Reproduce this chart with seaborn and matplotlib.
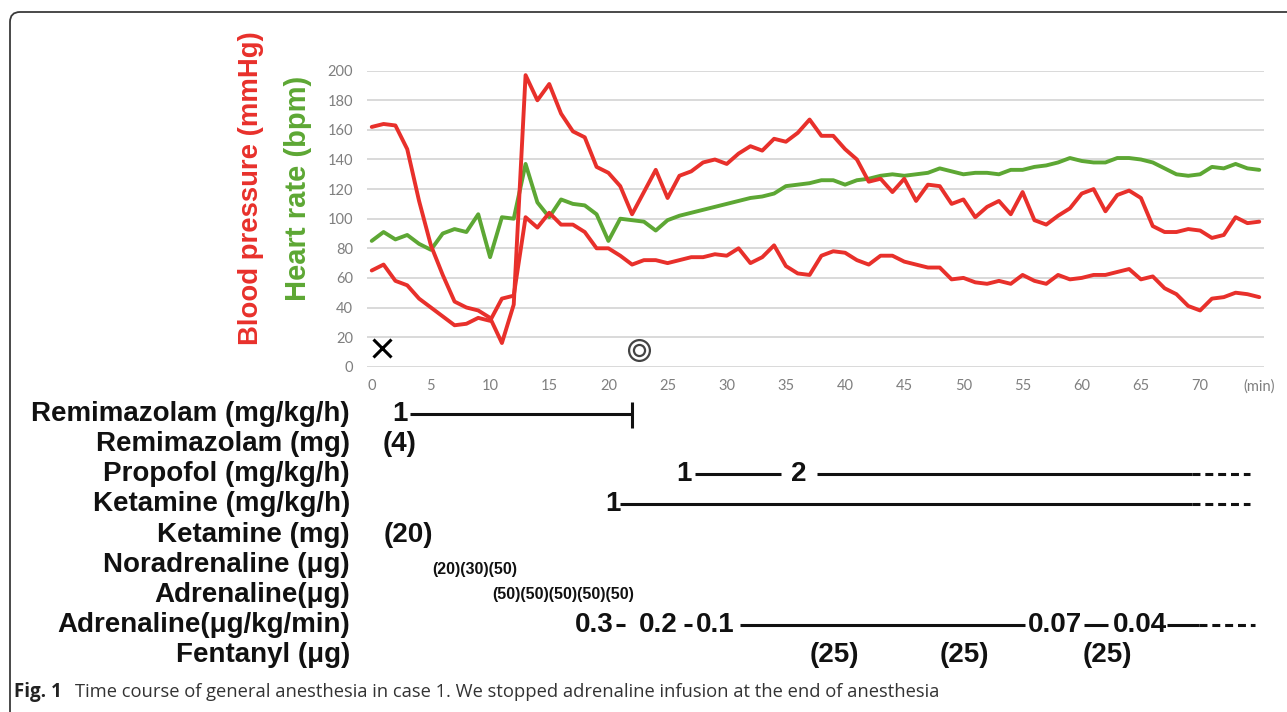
import matplotlib
matplotlib.use("Agg")
import matplotlib.pyplot as plt
import numpy as np
import pandas as pd
import seaborn as sns
from matplotlib.patches import FancyBboxPatch
from matplotlib.transforms import blended_transform_factory, IdentityTransform

# ---------------- data ----------------
minutes = list(range(0, 76))
systolic = [162, 164, 163, 147, 112, 82, 62, 44, 40, 38, 33, 16, 42, 197, 180, 191, 171, 159, 155, 135,
            131, 122, 103, 118, 133, 114, 129, 132, 138, 140, 137, 144, 149, 146, 154, 152, 158, 167, 156, 156,
            147, 140, 125, 127, 118, 127, 112, 123, 122, 110, 113, 101, 108, 112, 103, 118, 99, 96, 102, 107,
            117, 120, 105, 116, 119, 114, 95, 91, 91, 93, 92, 87, 89, 101, 97, 98]
diastolic = [65, 69, 58, 55, 46, 40, 34, 28, 29, 33, 31, 46, 48, 101, 94, 104, 96, 96, 91, 80,
             80, 75, 69, 72, 72, 70, 72, 74, 74, 76, 75, 80, 70, 74, 82, 68, 63, 62, 75, 78,
             77, 72, 69, 75, 75, 71, 69, 67, 67, 59, 60, 57, 56, 58, 56, 62, 58, 56, 62, 59,
             60, 62, 62, 64, 66, 59, 61, 53, 49, 41, 38, 46, 47, 50, 49, 47]
heart_rate = [85, 91, 86, 89, 83, 79, 90, 93, 91, 103, 74, 101, 100, 137, 111, 101, 113, 110, 109, 103,
              85, 100, 99, 98, 92, 99, 102, 104, 106, 108, 110, 112, 114, 115, 117, 122, 123, 124, 126, 126,
              123, 126, 127, 129, 130, 129, 130, 131, 134, 132, 130, 131, 131, 130, 133, 133, 135, 136, 138, 141,
              139, 138, 138, 141, 141, 140, 138, 134, 130, 129, 130, 135, 134, 137, 134, 133]

y_ticks = [0, 20, 40, 60, 80, 100, 120, 140, 160, 180, 200]
x_ticks = [0, 5, 10, 15, 20, 25, 30, 35, 40, 45, 50, 55, 60, 65, 70, 75]
x_tick_labels = ["0", "5", "10", "15", "20", "25", "30", "35", "40", "45", "50", "55", "60", "65", "70", "(min)"]

# event markers (time in min, level on BP axis)
intubation_time, intubation_level = 0.85, 12.5
end_time, end_level = 22.6, 11.5

# drug rows
row_labels = ["Remimazolam (mg/kg/h)", "Remimazolam (mg)", "Propofol (mg/kg/h)", "Ketamine (mg/kg/h)",
              "Ketamine (mg)", "Noradrenaline (μg)", "Adrenaline(μg)", "Adrenaline(μg/kg/min)", "Fentanyl (μg)"]

remi_rate_text, remi_rate_times = ["1"], [2.4]
remi_rate_solid = [(3.2, 22.0)]
remi_stop_time = 22.0

remi_bolus_text, remi_bolus_times = ["(4)"], [0.9]

prop_rate_text, prop_rate_times = ["1", "2"], [26.4, 36.1]
prop_rate_solid = [(27.3, 34.6), (37.6, 69.3)]
prop_rate_dashed = [(69.3, 74.2)]

ket_rate_text, ket_rate_times = ["1"], [20.4]
ket_rate_solid = [(21.0, 69.3)]
ket_rate_dashed = [(69.3, 74.2)]

ket_bolus_text, ket_bolus_times = ["(20)"], [1.0]
nor_bolus_text, nor_bolus_times = ["(20)(30)(50)"], [5.1]
adr_bolus_text, adr_bolus_times = ["(50)(50)(50)(50)(50)"], [10.2]

adr_rate_text = ["0.3", "0.2", "0.1", "0.07", "0.04"]
adr_rate_times = [18.8, 24.2, 29.05, 57.7, 64.9]
adr_rate_solid = [(20.6, 21.4), (26.4, 27.1), (31.1, 55.2), (60.2, 62.2), (67.2, 69.9)]
adr_rate_dashed = [(69.9, 74.6)]

fent_text, fent_times = ["(25)", "(25)", "(25)"], [39.1, 50.1, 62.2]

caption_bold = "Fig. 1"
caption_text = "Time course of general anesthesia in case 1. We stopped adrenaline infusion at the end of anesthesia"

# ---------------- style ----------------
RED = "#E8302B"
GREEN = "#5DA734"
W, H = 1287, 712
sns.set_theme(style="white")
plt.rcParams["font.family"] = ["Lato", "DejaVu Sans"]

fig = plt.figure(figsize=(W / 100, H / 100), dpi=100)
fig.patch.set_facecolor("white")

# frame (top and left edges visible, rounded corner)
frame = FancyBboxPatch((10, -40), 1400, 740, boxstyle="round,pad=0,rounding_size=10",
                       transform=IdentityTransform(), fill=False, edgecolor="#3a3a3a", linewidth=1.3)
fig.add_artist(frame)

# main chart axes
ax_left, ax_right = 367, 1264
ax_top, ax_bottom = 70.7, 366.7
ax = fig.add_axes([ax_left / W, (H - ax_bottom) / H, (ax_right - ax_left) / W, (ax_bottom - ax_top) / H])
ax.set_facecolor("none")

df = pd.DataFrame({"minute": minutes, "systolic": systolic, "diastolic": diastolic, "hr": heart_rate})
sns.lineplot(data=df, x="minute", y="hr", color=GREEN, linewidth=2.8, ax=ax)
sns.lineplot(data=df, x="minute", y="systolic", color=RED, linewidth=2.8, ax=ax)
sns.lineplot(data=df, x="minute", y="diastolic", color=RED, linewidth=2.8, ax=ax)

ax.set_xlim(-0.4, 75.4)
ax.set_ylim(0, 200)
ax.set_yticks(y_ticks)
ax.set_xticks(x_ticks)
ax.set_xticklabels(x_tick_labels)
ax.grid(axis="y", color="#D9D9D9", linewidth=1.4)
ax.set_axisbelow(True)
for s in ax.spines.values():
    s.set_visible(False)
ax.tick_params(axis="both", length=0, labelsize=10.5, labelcolor="#7F7F7F")
ax.tick_params(axis="y", pad=10)
ax.tick_params(axis="x", pad=9)
ax.set_xlabel("")
ax.set_ylabel("")

# event markers
ax.plot([intubation_time], [intubation_level], marker="x", markersize=13, markeredgewidth=2.2,
        color="black", linestyle="none", clip_on=False)
ax.plot([end_time], [end_level], marker="o", markersize=15, markerfacecolor="none",
        markeredgecolor="#444444", markeredgewidth=1.6, linestyle="none", clip_on=False)
ax.plot([end_time], [end_level], marker="o", markersize=8, markerfacecolor="none",
        markeredgecolor="#444444", markeredgewidth=1.6, linestyle="none", clip_on=False)

# axis titles
TITLE_FONT = ["Liberation Sans", "DejaVu Sans"]
fig.text(251 / W, (H - 188) / H, "Blood pressure (mmHg)", rotation=90, ha="center", va="center",
         color=RED, fontsize=19.8, fontweight="bold", family=TITLE_FONT)
fig.text(298 / W, (H - 188) / H, "Heart rate (bpm)", rotation=90, ha="center", va="center",
         color=GREEN, fontsize=21, fontweight="bold", family=TITLE_FONT)

# drug table axes
row_top_px, row_bottom_px = 399, 670
ax2 = fig.add_axes([ax_left / W, (H - row_bottom_px) / H, (ax_right - ax_left) / W,
                    (row_bottom_px - row_top_px) / H])
ax2.set_xlim(ax.get_xlim())
ax2.set_ylim(len(row_labels) - 0.5, -0.5)
ax2.axis("off")

DRUG_FONT = ["Liberation Sans", "DejaVu Sans"]
big = dict(fontsize=20, fontweight="bold", family=DRUG_FONT, color="#111111", va="center")
small = dict(fontsize=11.5, fontweight="bold", family=DRUG_FONT, color="#111111", va="center")
LINE_KW = dict(color="#111111", linewidth=2.2, solid_capstyle="butt")
DASH_KW = dict(color="#111111", linewidth=2.2, linestyle=(0, (2.6, 1.6)))

lab_tr = blended_transform_factory(fig.transFigure, ax2.transData)
for i, lab in enumerate(row_labels):
    ax2.text(350 / W, i, lab, transform=lab_tr, ha="right", **big)


def put_texts(row, texts, times, style, ha="center", dy=0.0):
    for t, x in zip(texts, times):
        ax2.text(x, row + dy, t, ha=ha, **style)


def put_lines(row, segs, kw):
    for a, b in segs:
        ax2.plot([a, b], [row, row], **kw)


# row 0 remimazolam infusion
put_texts(0, remi_rate_text, remi_rate_times, big)
put_lines(0, remi_rate_solid, LINE_KW)
ax2.plot([remi_stop_time, remi_stop_time], [-0.4, 0.45], **LINE_KW)
# row 1 remimazolam bolus
put_texts(1, remi_bolus_text, remi_bolus_times, big, ha="left")
# row 2 propofol
put_texts(2, prop_rate_text, prop_rate_times, big)
put_lines(2, prop_rate_solid, LINE_KW)
put_lines(2, prop_rate_dashed, DASH_KW)
# row 3 ketamine infusion
put_texts(3, ket_rate_text, ket_rate_times, big)
put_lines(3, ket_rate_solid, LINE_KW)
put_lines(3, ket_rate_dashed, DASH_KW)
# row 4 ketamine bolus
put_texts(4, ket_bolus_text, ket_bolus_times, big, ha="left")
# row 5 noradrenaline bolus
put_texts(5, nor_bolus_text, nor_bolus_times, small, ha="left", dy=0.15)
# row 6 adrenaline bolus
put_texts(6, adr_bolus_text, adr_bolus_times, small, ha="left")
# row 7 adrenaline infusion
put_texts(7, adr_rate_text, adr_rate_times, big)
put_lines(7, adr_rate_solid, LINE_KW)
put_lines(7, adr_rate_dashed, DASH_KW)
# row 8 fentanyl
put_texts(8, fent_text, fent_times, big)

# caption
cap_y = (H - 692) / H
fig.text(14 / W, cap_y, caption_bold, ha="left", va="center", fontsize=13.5, fontweight="bold",
         family=["Open Sans", "DejaVu Sans"], color="#222222")
fig.text(75 / W, cap_y, caption_text, ha="left", va="center", fontsize=13.2,
         family=["Open Sans", "DejaVu Sans"], color="#333333")

fig.savefig("out.png", dpi=100, facecolor="white")
